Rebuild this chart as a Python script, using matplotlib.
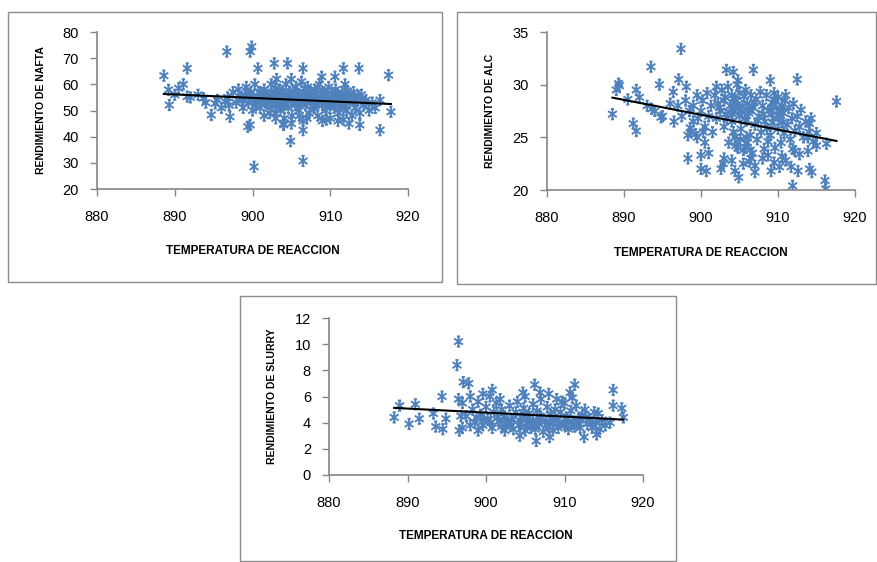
import numpy as np
import matplotlib
matplotlib.use("Agg")
import matplotlib.pyplot as plt
from matplotlib.patches import Rectangle
from matplotlib.path import Path

# ---------------- data ----------------
nafta_temp = [888.6, 889.3, 889.2, 890.5, 891.1, 891.6, 891.6, 893.7, 894.7, 895.2, 896.7, 897.1, 896.5,
              899.9, 899.7, 900.7, 899.7, 899.4, 900.2, 902.8, 904.5, 906.5, 904.9, 906.5, 906.5, 904.0,
              911.7, 913.7, 910.6, 908.9, 916.4, 917.5, 917.8, 916.4, 913.8, 912.4, 911.7, 909.5, 902.9,
              896.8, 897.5, 897.9, 898.2, 898.5, 898.8, 899.0, 899.2, 899.5, 899.8, 900.0, 900.1, 900.3,
              900.5, 900.8, 901.0, 901.2, 901.5, 901.7, 902.0, 902.2, 902.4, 902.6, 902.8, 903.0, 903.1,
              903.3, 903.5, 903.6, 903.8, 904.0, 904.1, 904.3, 904.5, 904.6, 904.8, 905.0, 905.1, 905.3,
              905.5, 905.6, 905.8, 906.0, 906.1, 906.3, 906.5, 906.6, 906.8, 907.0, 907.1, 907.3, 907.5,
              907.7, 907.9, 908.0, 908.2, 908.4, 908.6, 908.8, 909.0, 909.2, 909.4, 909.6, 909.8, 910.0,
              910.2, 910.3, 910.5, 910.7, 910.9, 911.1, 911.3, 911.5, 911.7, 911.9, 912.1, 912.3, 912.5,
              912.8, 913.0, 913.2, 913.5, 913.8, 914.0, 914.3, 914.6, 915.0, 915.4, 915.8,
              890.0, 892.0, 893.0, 894.0, 895.5, 896.0, 897.0,
              901.0, 902.0, 903.0, 904.0, 905.0, 906.0, 907.0, 908.0, 909.0, 903.5, 904.5, 905.5, 906.5,
              907.5, 908.5, 909.5, 910.5, 911.5, 912.5, 902.5, 904.0, 906.0, 908.0, 910.0, 912.0, 906.0,
              907.0, 905.0, 909.0, 911.0, 904.0, 903.0, 901.5,
              900.6, 901.4, 902.3, 903.2, 903.9, 904.7, 905.4, 906.2, 906.9, 907.6, 908.3, 909.1, 909.9,
              910.6, 911.4, 912.2, 913.1, 901.9, 902.9, 903.7, 904.4, 905.2, 905.9, 906.7, 907.4, 908.1,
              908.9, 909.7, 910.4, 911.2, 912.0, 912.7, 898.7, 899.6, 900.4, 901.1, 913.6, 914.4]
nafta_yield = [63.3, 52.1, 57.9, 58.5, 60.0, 66.1, 55.3, 54.7, 48.3, 52.7, 72.5, 47.6, 53.4,
               74.4, 72.5, 66.1, 44.5, 43.8, 28.5, 68.0, 68.0, 66.1, 38.3, 30.7, 42.5, 44.5,
               66.1, 66.1, 62.9, 62.9, 42.5, 63.5, 49.5, 54.0, 44.5, 45.0, 46.5, 46.5, 49.0,
               55, 57, 53, 58, 55, 51, 56, 59, 53, 57, 50, 55, 60,
               53, 57, 51, 55, 58, 53, 56, 49, 60, 54, 57, 52, 62,
               55, 58, 50, 53, 56, 47, 60, 54, 51, 57, 62, 48, 55,
               52, 59, 56, 50, 54, 61, 46, 57, 52, 55, 59, 49, 53,
               56, 51, 58, 54, 48, 60, 55, 52, 57, 50, 54, 59, 47,
               56, 53, 51, 58, 55, 49, 54, 57, 52, 60, 50, 55, 53,
               48, 57, 51, 54, 49, 56, 52, 54, 50, 53, 51,
               56, 55, 56, 53, 54, 51, 52,
               57, 54, 56, 55, 54, 56, 53, 56, 54, 54, 56, 55, 55,
               57, 53, 56, 54, 55, 56, 52, 52, 52, 51, 52, 52, 48,
               47, 45, 46, 46, 45, 47, 48,
               54.5, 56.5, 55.5, 53.5, 57.5, 55.5, 56.5, 53.5, 56.5, 55.5, 57.5, 55.5, 53.5,
               56.5, 52.5, 57.5, 54.5, 52.5, 58.5, 56.5, 52.5, 57.5, 53.5, 58.5, 54.5, 52.5,
               56.5, 52.5, 55.5, 51.5, 56.5, 54.5, 54.0, 55.0, 52.0, 53.5, 55.5, 53.0]

alc_temp = [888.5, 889.3, 889.4, 891.2, 891.6, 891.6, 893.5, 893.6, 894.6, 894.8, 897.4, 897.1, 898.1,
            896.4, 898.3, 900.0, 900.0, 900.7, 898.3, 898.7, 900.3, 899.6, 902.0, 903.3, 904.2, 904.8,
            906.8, 909.0, 912.5, 917.6, 902.6, 904.4, 904.9, 902.9, 907.0, 909.1, 910.2, 911.7, 912.6,
            914.1, 914.4, 911.9, 916.1, 916.2, 906.5, 906.3, 908.7, 911.9, 912.2, 912.8, 913.9, 915.0,
            916.3, 913.9, 914.1,
            897.0, 897.5, 898.0, 898.5, 899.0, 899.0, 899.5, 900.0, 900.2, 900.5, 900.8, 901.0, 901.3,
            901.5, 901.8, 902.0, 902.2, 902.5, 902.7, 903.0, 903.0, 903.2, 903.5, 903.6, 903.8, 904.0,
            904.0, 904.2, 904.4, 904.5, 904.7, 904.8, 905.0, 905.0, 905.2, 905.4, 905.5, 905.7, 905.8,
            906.0, 906.0, 906.2, 906.4, 906.5, 906.7, 906.8, 907.0, 907.2, 907.3, 907.5, 907.7, 907.8,
            908.0, 908.2, 908.3, 908.5, 908.7, 908.8, 909.0, 909.2, 909.3, 909.5, 909.6, 909.8, 910.0,
            910.0, 910.2, 910.4, 910.5, 910.7, 910.8, 911.0, 911.2, 911.4, 911.6, 911.8, 912.0, 912.2,
            912.5, 912.8, 913.0, 913.3, 913.6, 914.0, 914.3, 914.6, 915.0,
            889.0, 890.5, 892.0, 893.0, 894.0, 895.0, 896.0, 896.5,
            899.5, 900.5, 901.0, 903.0, 904.0, 905.5, 907.0, 908.0, 909.5, 910.5, 911.0,
            902.4, 903.1, 903.7, 904.3, 904.9, 905.6, 906.1, 906.9, 903.4, 904.1, 904.6, 905.3, 905.9,
            906.6, 909.1, 909.7, 910.3, 910.9, 909.4, 910.1, 910.6, 904.5, 905.1, 905.8, 906.4, 904.2,
            905.9, 908.1, 908.6, 907.4, 898.6, 899.3]
alc_yield = [27.2, 30.1, 29.9, 26.3, 25.6, 29.5, 31.7, 27.7, 30.0, 26.9, 33.4, 30.5, 29.8,
             29.3, 23.0, 23.3, 22.0, 21.8, 25.2, 25.5, 25.5, 26.8, 29.8, 31.4, 31.2, 30.4,
             31.4, 30.4, 30.5, 28.4, 22.0, 21.8, 21.2, 22.5, 21.7, 21.8, 22.2, 22.2, 21.8,
             22.0, 21.7, 20.4, 20.9, 20.1, 23.0, 22.7, 23.3, 23.9, 23.7, 23.4, 23.7, 24.2,
             24.4, 25.0, 26.3,
             28.0, 27.0, 28.5, 27.5, 28.0, 26.5, 29.0, 27.5, 28.5, 26.0, 29.2, 27.0, 28.0,
             25.5, 29.0, 26.8, 28.2, 27.5, 29.5, 26.0, 28.5, 27.2, 29.8, 24.5, 28.0, 26.5,
             29.0, 27.6, 25.0, 28.4, 30.0, 24.0, 27.0, 29.2, 25.8, 28.0, 23.8, 26.8, 29.5,
             24.5, 28.2, 27.3, 25.2, 29.0, 23.5, 27.8, 26.2, 28.6, 24.8, 27.0, 29.3, 25.5,
             28.0, 23.9, 26.5, 29.0, 24.6, 27.5, 25.2, 28.3, 26.4, 29.2, 24.0, 27.8, 25.8,
             28.8, 26.9, 24.5, 28.0, 27.3, 25.4, 29.0, 26.2, 27.8, 24.8, 26.8, 28.2, 25.6,
             27.0, 26.0, 27.6, 25.0, 26.5, 25.5, 26.8, 24.6, 25.4,
             29.5, 28.6, 28.8, 28.0, 27.5, 27.0, 28.2, 26.5,
             25.0, 24.5, 23.5, 23.0, 22.8, 22.5, 22.3, 23.0, 22.6, 23.2, 22.8,
             27.8, 28.8, 27.4, 28.6, 27.8, 28.9, 27.6, 28.3, 26.8, 27.2, 28.1, 27.5, 26.6,
             28.0, 27.6, 28.4, 27.4, 28.5, 26.8, 27.1, 26.4, 24.2, 24.8, 24.0, 23.8, 25.5,
             25.0, 27.2, 25.8, 26.6, 25.9, 25.3]

slurry_temp = [896.5, 896.3, 897.1, 897.8, 888.3, 889.0, 890.2, 891.0, 891.5, 893.3, 893.6, 894.4,
               894.5, 894.9, 896.6, 900.8, 901.8, 899.6, 904.7, 906.2, 906.9, 911.3, 910.7, 916.2,
               916.2, 917.3, 917.5, 906.4, 904.3, 914.1, 912.5, 908.1, 902.4, 915.8, 914.3,
               897.0, 897.5, 898.0, 898.3, 898.6, 899.0, 899.3, 899.6, 900.0, 900.2, 900.5, 900.8,
               901.0, 901.3, 901.6, 902.0, 902.0, 902.3, 902.6, 903.0, 903.2, 903.5, 903.8, 904.0,
               904.2, 904.5, 904.8, 905.0, 905.2, 905.5, 905.7, 906.0, 906.0, 906.3, 906.5, 906.8,
               907.0, 907.0, 907.3, 907.6, 907.8, 908.0, 908.2, 908.5, 908.8, 909.0, 909.2, 909.5,
               909.7, 910.0, 910.2, 910.5, 910.8, 911.0, 911.3, 911.5, 911.8, 912.0, 912.3, 912.6,
               912.9, 913.2, 913.5, 913.8, 914.0, 914.5, 914.8, 915.2,
               896.8, 896.5, 897.0, 898.0, 899.0, 905.0, 908.0, 909.0, 910.0, 911.0,
               900.6, 901.5, 902.8, 903.6, 904.4, 905.3, 906.1, 906.9, 907.7, 908.6, 909.4, 910.3,
               911.1, 912.0, 912.8, 913.6, 903.1, 904.9, 906.6, 908.3, 910.1, 911.7, 898.8, 899.7]
slurry_yield = [10.2, 8.4, 7.1, 7.0, 4.4, 5.3, 3.9, 5.4, 4.3, 4.7, 3.7, 6.0,
                3.5, 4.3, 3.4, 6.5, 5.8, 6.2, 6.3, 6.9, 6.3, 6.9, 6.3, 6.5,
                5.3, 5.1, 4.4, 2.6, 3.0, 3.1, 2.9, 2.9, 3.4, 4.0, 4.7,
                5.5, 4.5, 6.0, 5.0, 4.0, 5.6, 4.6, 3.8, 5.2, 4.3, 6.0, 3.6,
                4.8, 5.5, 4.1, 3.7, 5.0, 4.5, 3.9, 5.3, 4.2, 3.5, 4.8, 5.6,
                3.8, 4.4, 5.1, 3.4, 4.0, 4.7, 3.6, 5.4, 4.2, 3.5, 4.9, 3.9,
                5.8, 4.4, 3.3, 4.1, 5.2, 3.7, 4.6, 3.4, 5.0, 4.2, 3.6, 4.8,
                5.6, 3.9, 4.4, 3.5, 4.9, 4.1, 3.7, 5.3, 4.3, 3.6, 4.6, 5.0,
                3.9, 4.3, 3.6, 4.8, 4.0, 3.5, 4.2, 3.8,
                4.5, 5.8, 3.6, 3.8, 3.4, 6.0, 6.2, 5.8, 5.5, 5.9,
                4.0, 4.4, 4.1, 4.5, 3.9, 4.3, 3.9, 4.5, 3.8, 4.1, 4.0, 4.3,
                3.9, 4.2, 4.4, 4.0, 3.8, 4.6, 4.0, 4.3, 3.8, 4.1, 4.4, 4.2]

x_ticks = [880, 890, 900, 910, 920]
nafta_yticks = [20, 30, 40, 50, 60, 70, 80]
alc_yticks = [20, 25, 30, 35]
slurry_yticks = [0, 2, 4, 6, 8, 10, 12]
x_label = "TEMPERATURA DE REACCION"

panels = [
    dict(x=nafta_temp, y=nafta_yield, yticks=nafta_yticks, ylabel="RENDIMIENTO DE NAFTA",
         box=(8, 12, 442, 282), ax=(97, 32, 408, 189), ylab_x=41, xlab_y=251),
    dict(x=alc_temp, y=alc_yield, yticks=alc_yticks, ylabel="RENDIMIENTO DE ALC",
         box=(457, 12, 876, 284), ax=(547, 32, 855, 190), ylab_x=490, xlab_y=253),
    dict(x=slurry_temp, y=slurry_yield, yticks=slurry_yticks, ylabel="RENDIMIENTO DE SLURRY",
         box=(240, 296, 676, 561), ax=(329, 318, 643, 475), ylab_x=272, xlab_y=536),
]

W, H = 877, 562
fig = plt.figure(figsize=(W / 100, H / 100), dpi=100)
plt.rcParams['font.family'] = ['Liberation Sans', 'DejaVu Sans']

BLUE = '#4F81BD'
AXIS = '#868686'
star_path = Path([(0, 1), (0, -1), (-0.85, 0.6), (0.85, -0.6), (-0.85, -0.6), (0.85, 0.6),
                  (-0.3, 1), (0.3, 1), (-0.3, -1), (0.3, -1)],
                 [Path.MOVETO, Path.LINETO, Path.MOVETO, Path.LINETO, Path.MOVETO, Path.LINETO,
                  Path.MOVETO, Path.LINETO, Path.MOVETO, Path.LINETO])

for p in panels:
    bx0, by0, bx1, by1 = p['box']
    fig.patches.append(Rectangle((bx0 / W, 1 - by1 / H), (bx1 - bx0) / W, (by1 - by0) / H,
                                 transform=fig.transFigure, fill=False, edgecolor='#8c8c8c', lw=1.0))
    ax0, ay0, ax1, ay1 = p['ax']
    ax = fig.add_axes([ax0 / W, 1 - ay1 / H, (ax1 - ax0) / W, (ay1 - ay0) / H])
    x = np.array(p['x']); y = np.array(p['y'])
    ax.scatter(x, y, marker=star_path, s=55, facecolors='none', edgecolors=BLUE, linewidths=1.4, zorder=2)
    k, b = np.polyfit(x, y, 1)
    xl = np.array([x.min(), x.max()])
    ax.plot(xl, k * xl + b, color='black', lw=1.5, zorder=3)
    ax.set_xlim(880, 920)
    ax.set_ylim(p['yticks'][0], p['yticks'][-1])
    ax.set_xticks(x_ticks)
    ax.set_yticks(p['yticks'])
    ax.tick_params(axis='both', labelsize=10.5, color=AXIS, direction='out', length=5, width=1)
    ax.tick_params(axis='x', pad=10)
    ax.tick_params(axis='y', pad=8)
    for s in ['top', 'right']:
        ax.spines[s].set_visible(False)
    for s in ['left', 'bottom']:
        ax.spines[s].set_color(AXIS)
        ax.spines[s].set_linewidth(1.2)
    ax.patch.set_alpha(0)
    fig.text(((ax0 + ax1) / 2) / W, 1 - p['xlab_y'] / H, x_label, ha='center', va='center',
             fontsize=8.5, fontweight='bold')
    fig.text(p['ylab_x'] / W, 1 - ((ay0 + ay1) / 2) / H, p['ylabel'], ha='center', va='center',
             rotation=90, fontsize=7.5, fontweight='bold')

fig.savefig('out.png', dpi=100)
